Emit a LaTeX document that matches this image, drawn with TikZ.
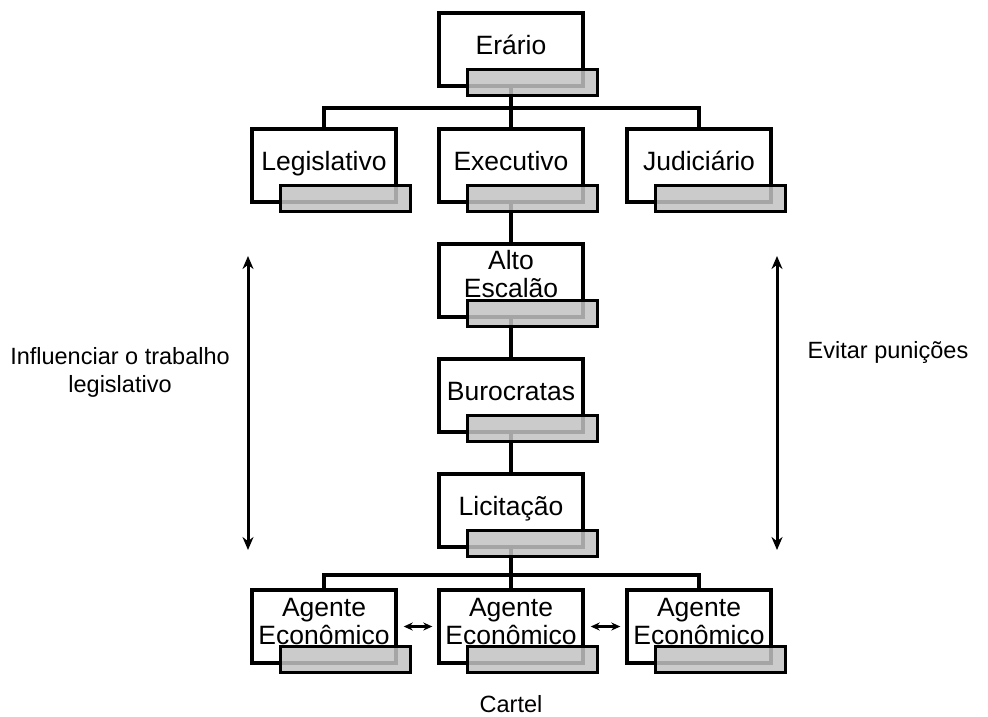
\documentclass[tikz,border=0pt]{standalone}
\usepackage{fontspec}
\setmainfont{Liberation Sans}
\usetikzlibrary{arrows.meta,backgrounds}
\definecolor{bargray}{rgb}{0.76,0.76,0.76}
\tikzset{
  obox/.style={draw=black, line width=3.4pt, fill=white, minimum width=144pt, minimum height=73pt, inner sep=0pt},
  otext/.style={font=\fontsize{26.5}{28}\selectfont, align=center, inner sep=0pt, anchor=base},
  obar/.style={draw=black, line width=3pt, fill=bargray, fill opacity=0.85, minimum width=130pt, minimum height=26pt, inner sep=0pt},
  conn/.style={line width=3.4pt},
  bigarrow/.style={line width=3pt, {Stealth[length=13pt,width=11pt]}-{Stealth[length=13pt,width=11pt]}},
  smallarrow/.style={line width=2.4pt, {Stealth[length=9pt,width=8pt]}-{Stealth[length=9pt,width=8pt]}},
  sidetext/.style={font=\fontsize{23.5}{28}\selectfont, align=center, inner sep=0pt}
}
% name, left, top, baseline offset of last line, text
\newcommand{\orgbox}[5]{%
  \node[obox] (#1) at (#2+72, #3+36.5) {};
  \node[otext] (#1-t) at (#2+72, #3+#4) {#5};
  \node[obar] (#1-b) at (#2+93, #3+69) {};
}
\begin{document}
\begin{tikzpicture}[x=1pt,y=-1pt]
\useasboundingbox (0,0) rectangle (988,716);
\orgbox{erario}{439}{13}{41}{Erário}
\orgbox{leg}{252}{129}{41}{Legislativo}
\orgbox{exe}{439}{129}{41}{Executivo}
\orgbox{jud}{627}{129}{41}{Judiciário}
\orgbox{alto}{439}{244}{53}{Alto\\Escalão}
\orgbox{buro}{439}{359}{41}{Burocratas}
\orgbox{lici}{439}{474}{41}{Licitação}
\orgbox{ag1}{252}{590}{54}{Agente\\Econômico}
\orgbox{ag2}{439}{590}{54}{Agente\\Econômico}
\orgbox{ag3}{627}{590}{54}{Agente\\Econômico}
\coordinate (j1) at (511,108);
\coordinate (j2) at (511,575);
\begin{scope}[on background layer]
  \draw[conn] (erario.center) -- (j1);
  \draw[conn] (leg.center) |- (j1) -| (jud.center);
  \draw[conn] (j1) -- (exe.center);
  \draw[conn] (exe.center) -- (alto.center) -- (buro.center) -- (lici.center) -- (j2);
  \draw[conn] (ag1.center) |- (j2) -| (ag3.center);
  \draw[conn] (j2) -- (ag2.center);
\end{scope}
\coordinate (la1) at (248,256);
\coordinate (la2) at (248,550);
\coordinate (ra1) at (777,256);
\coordinate (ra2) at (777,550);
\draw[bigarrow] (la1) -- (la2);
\draw[bigarrow] (ra1) -- (ra2);
\draw[smallarrow, shorten <=6pt, shorten >=5pt] (ag1.east) -- (ag2.west);
\draw[smallarrow, shorten <=6pt, shorten >=5pt] (ag2.east) -- (ag3.west);
\node[sidetext] (infl) at (120,372) {Influenciar o trabalho\\legislativo};
\node[sidetext] (evit) at (888,352) {Evitar punições};
\node[sidetext] (cartel) at (511,704) {Cartel};
\end{tikzpicture}
\end{document}
